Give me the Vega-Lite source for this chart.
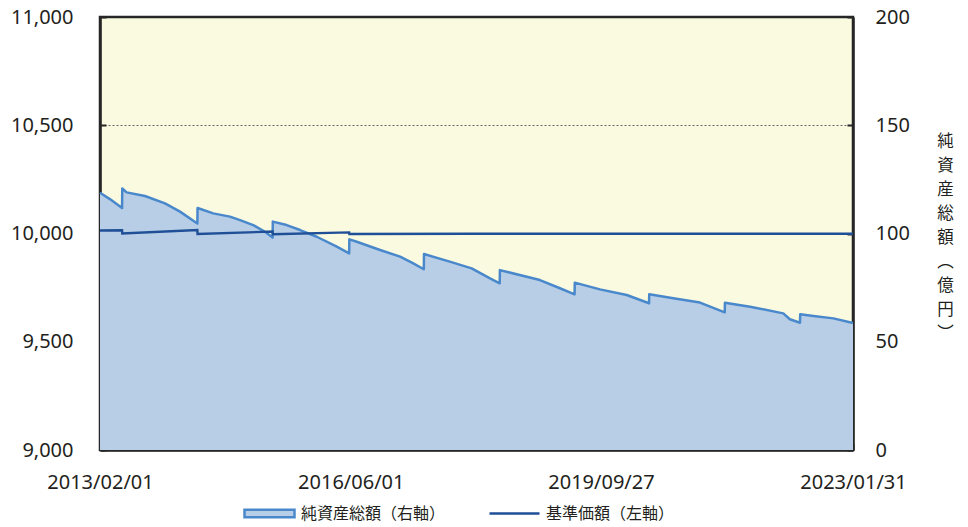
{
  "$schema": "https://vega.github.io/schema/vega-lite/v6.json",
  "width": 753,
  "height": 433,
  "autosize": "none",
  "padding": {"left": 100, "top": 17, "right": 115, "bottom": 77},
  "background": "white",
  "config": {
    "view": {"fill": "#fafae0", "stroke": "#262626", "strokeWidth": 2.5},
    "font": "Noto Sans",
    "axis": {
      "labelFont": "Noto Sans",
      "labelFontSize": 20,
      "labelColor": "#231f20",
      "domainColor": "#262626",
      "domainWidth": 2.5,
      "tickColor": "#262626",
      "tickWidth": 2,
      "tickSize": -6,
      "labelOverlap": false,
      "labelFlush": false,
      "zindex": 1
    }
  },
  "data": {
    "values": [
      {"date": "2013/02/01", "series": "純資産総額（右軸）", "value": 118.8},
      {"date": "2013/03/21", "series": "純資産総額（右軸）", "value": 115.9},
      {"date": "2013/05/19", "series": "純資産総額（右軸）", "value": 111.8},
      {"date": "2013/05/20", "series": "純資産総額（右軸）", "value": 120.8},
      {"date": "2013/06/10", "series": "純資産総額（右軸）", "value": 119.0},
      {"date": "2013/09/07", "series": "純資産総額（右軸）", "value": 117.3},
      {"date": "2013/12/13", "series": "純資産総額（右軸）", "value": 113.9},
      {"date": "2014/02/24", "series": "純資産総額（右軸）", "value": 110.1},
      {"date": "2014/05/19", "series": "純資産総額（右軸）", "value": 104.6},
      {"date": "2014/05/20", "series": "純資産総額（右軸）", "value": 111.8},
      {"date": "2014/08/04", "series": "純資産総額（右軸）", "value": 109.3},
      {"date": "2014/10/24", "series": "純資産総額（右軸）", "value": 107.8},
      {"date": "2014/12/12", "series": "純資産総額（右軸）", "value": 106.2},
      {"date": "2015/02/14", "series": "純資産総額（右軸）", "value": 103.9},
      {"date": "2015/04/12", "series": "純資産総額（右軸）", "value": 100.8},
      {"date": "2015/05/19", "series": "純資産総額（右軸）", "value": 98.1},
      {"date": "2015/05/20", "series": "純資産総額（右軸）", "value": 105.5},
      {"date": "2015/07/26", "series": "純資産総額（右軸）", "value": 103.9},
      {"date": "2015/09/29", "series": "純資産総額（右軸）", "value": 101.6},
      {"date": "2015/12/19", "series": "純資産総額（右軸）", "value": 98.5},
      {"date": "2016/03/25", "series": "純資産総額（右軸）", "value": 93.9},
      {"date": "2016/05/24", "series": "純資産総額（右軸）", "value": 90.8},
      {"date": "2016/05/25", "series": "純資産総額（右軸）", "value": 97.3},
      {"date": "2016/06/30", "series": "純資産総額（右軸）", "value": 96.2},
      {"date": "2016/10/21", "series": "純資産総額（右軸）", "value": 92.4},
      {"date": "2017/01/26", "series": "純資産総額（右軸）", "value": 89.3},
      {"date": "2017/03/31", "series": "純資産総額（右軸）", "value": 86.2},
      {"date": "2017/05/21", "series": "純資産総額（右軸）", "value": 83.5},
      {"date": "2017/05/22", "series": "純資産総額（右軸）", "value": 90.5},
      {"date": "2017/09/24", "series": "純資産総額（右軸）", "value": 87.0},
      {"date": "2018/01/08", "series": "純資産総額（右軸）", "value": 83.9},
      {"date": "2018/04/07", "series": "純資産総額（右軸）", "value": 79.3},
      {"date": "2018/05/24", "series": "純資産総額（右軸）", "value": 77.0},
      {"date": "2018/05/25", "series": "純資産総額（右軸）", "value": 83.1},
      {"date": "2018/12/05", "series": "純資産総額（右軸）", "value": 78.5},
      {"date": "2019/03/12", "series": "純資産総額（右軸）", "value": 74.7},
      {"date": "2019/05/22", "series": "純資産総額（右軸）", "value": 71.9},
      {"date": "2019/05/23", "series": "純資産総額（右軸）", "value": 77.3},
      {"date": "2019/09/22", "series": "純資産総額（右軸）", "value": 74.2},
      {"date": "2020/01/30", "series": "純資産総額（右軸）", "value": 71.6},
      {"date": "2020/05/17", "series": "純資産総額（右軸）", "value": 67.8},
      {"date": "2020/05/18", "series": "純資産総額（右軸）", "value": 71.9},
      {"date": "2020/09/12", "series": "純資産総額（右軸）", "value": 70.1},
      {"date": "2021/01/19", "series": "純資産総額（右軸）", "value": 68.1},
      {"date": "2021/05/19", "series": "純資産総額（右軸）", "value": 63.6},
      {"date": "2021/05/20", "series": "純資産総額（右軸）", "value": 68.0},
      {"date": "2021/09/19", "series": "純資産総額（右軸）", "value": 66.2},
      {"date": "2022/02/27", "series": "純資産総額（右軸）", "value": 63.1},
      {"date": "2022/03/31", "series": "純資産総額（右軸）", "value": 60.4},
      {"date": "2022/05/19", "series": "純資産総額（右軸）", "value": 58.8},
      {"date": "2022/05/20", "series": "純資産総額（右軸）", "value": 62.7},
      {"date": "2022/07/23", "series": "純資産総額（右軸）", "value": 61.9},
      {"date": "2022/10/28", "series": "純資産総額（右軸）", "value": 60.8},
      {"date": "2023/01/31", "series": "純資産総額（右軸）", "value": 58.7},
      {"date": "2013/02/01", "series": "基準価額（左軸）", "value": 10014},
      {"date": "2013/05/19", "series": "基準価額（左軸）", "value": 10015},
      {"date": "2013/05/20", "series": "基準価額（左軸）", "value": 10000},
      {"date": "2014/05/19", "series": "基準価額（左軸）", "value": 10016},
      {"date": "2014/05/20", "series": "基準価額（左軸）", "value": 9998},
      {"date": "2015/05/19", "series": "基準価額（左軸）", "value": 10009},
      {"date": "2015/05/20", "series": "基準価額（左軸）", "value": 9997},
      {"date": "2016/05/24", "series": "基準価額（左軸）", "value": 10005},
      {"date": "2016/05/25", "series": "基準価額（左軸）", "value": 9998},
      {"date": "2018/01/01", "series": "基準価額（左軸）", "value": 9999},
      {"date": "2020/01/01", "series": "基準価額（左軸）", "value": 9999},
      {"date": "2023/01/31", "series": "基準価額（左軸）", "value": 9999}
    ]
  },
  "encoding": {
    "x": {
      "field": "date",
      "type": "temporal",
      "scale": {"domain": [{"year": 2013, "month": 2, "date": 1}, {"year": 2023, "month": 1, "date": 31}], "nice": false},
      "axis": {
        "title": null,
        "values": [{"year": 2013, "month": 2, "date": 1}, {"year": 2016, "month": 6, "date": 1}, {"year": 2019, "month": 9, "date": 27}, {"year": 2023, "month": 1, "date": 31}],
        "format": "%Y/%m/%d",
        "labelPadding": 28,
        "grid": false
      }
    }
  },
  "layer": [
    {
      "transform": [{"filter": "datum.series === '純資産総額（右軸）'"}],
      "mark": {"type": "area", "opacity": 1, "fillOpacity": 1},
      "encoding": {
        "y": {
          "field": "value",
          "type": "quantitative",
          "scale": {"domain": [0, 200], "nice": false},
          "axis": {
            "orient": "right",
            "values": [0, 50, 100, 150, 200],
            "grid": false,
            "labelPadding": 28,
            "title": ["純", "資", "産", "総", "額", "︵", "億", "円", "︶"],
            "titleAngle": 0,
            "titleFont": "Noto Sans CJK JP",
            "titleFontSize": 16.5,
            "titleFontWeight": "normal",
            "titleColor": "#231f20",
            "titleLineHeight": 24,
            "titleAlign": "center",
            "titleBaseline": "middle",
            "titleX": 92,
            "titleY": 124
          }
        },
        "fill": {
          "field": "series",
          "type": "nominal",
          "scale": {"domain": ["純資産総額（右軸）"], "range": ["#b8cee6"]},
          "legend": {
            "orient": "none",
            "legendX": 143,
            "legendY": 470,
            "title": null,
            "symbolType": "M-1,-0.15H1V0.15H-1Z",
            "symbolSize": 2500,
            "symbolStrokeWidth": 2.5,
            "symbolStrokeColor": "#4a88cc",
            "labelFont": "Noto Sans CJK JP",
            "labelFontSize": 16,
            "labelColor": "#231f20",
            "labelOffset": 5,
            "labelLimit": 0,
            "encode": {
              "symbols": {
                "update": {
                  "stroke": {"value": "#4a88cc"},
                  "strokeWidth": {"value": 2.5},
                  "fill": {"value": "#b8cee6"},
                  "opacity": {"value": 1}
                }
              }
            }
          }
        }
      }
    },
    {
      "transform": [{"filter": "datum.series === '純資産総額（右軸）'"}],
      "mark": {"type": "line", "color": "#4a88cc", "strokeWidth": 2.5, "strokeJoin": "round"},
      "encoding": {
        "y": {"field": "value", "type": "quantitative", "scale": {"domain": [0, 200], "nice": false}, "axis": null}
      }
    },
    {
      "transform": [{"filter": "datum.series === '基準価額（左軸）'"}],
      "mark": {"type": "line", "strokeWidth": 2.4},
      "encoding": {
        "y": {
          "field": "value",
          "type": "quantitative",
          "scale": {"domain": [9000, 11000], "nice": false, "zero": false},
          "axis": {
            "orient": "left",
            "values": [9000, 9500, 10000, 10500, 11000],
            "format": ",.0f",
            "title": null,
            "labelPadding": 33,
            "grid": true,
            "gridDash": [2, 2],
            "gridColor": "#666666",
            "gridWidth": 1,
            "gridOpacity": {"condition": {"test": "datum.value === 10500", "value": 1}, "value": 0}
          }
        },
        "color": {
          "field": "series",
          "type": "nominal",
          "scale": {"domain": ["基準価額（左軸）"], "range": ["#1f4f96"]},
          "legend": {
            "orient": "none",
            "legendX": 388,
            "legendY": 470,
            "title": null,
            "symbolType": "M-1,0H1",
            "symbolSize": 2500,
            "symbolStrokeWidth": 2.5,
            "labelFont": "Noto Sans CJK JP",
            "labelFontSize": 16,
            "labelColor": "#231f20",
            "labelOffset": 5,
            "labelLimit": 0,
            "encode": {
              "symbols": {
                "update": {
                  "stroke": {"value": "#1f4f96"},
                  "strokeWidth": {"value": 2.5},
                  "fill": {"value": "transparent"},
                  "opacity": {"value": 1}
                }
              }
            }
          }
        }
      }
    }
  ],
  "resolve": {"scale": {"y": "independent"}}
}
